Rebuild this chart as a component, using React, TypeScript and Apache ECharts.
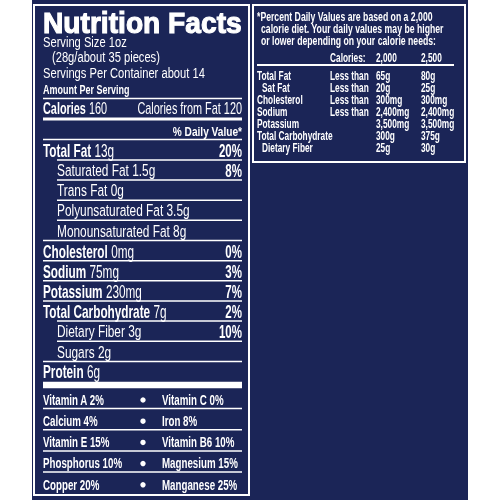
import React, { useEffect, useRef } from "react";
import * as echarts from "echarts";

const titleText = "Nutrition Facts";
const servingLines = ["Serving Size 1oz", "(28g/about 35 pieces)", "Servings Per Container about 14"];
const amountHeader = "Amount Per Serving";
const caloriesValue = "160";
const caloriesFromFat = "Calories from Fat 120";
const dailyValueHeader = "% Daily Value*";

const nutrientNames = [
  "Total Fat", "Saturated Fat", "Trans Fat", "Polyunsaturated Fat", "Monounsaturated Fat",
  "Cholesterol", "Sodium", "Potassium", "Total Carbohydrate", "Dietary Fiber", "Sugars", "Protein",
];
const nutrientAmounts = ["13g", "1.5g", "0g", "3.5g", "8g", "0mg", "75mg", "230mg", "7g", "3g", "2g", "6g"];
const nutrientPercents = ["20%", "8%", "", "", "", "0%", "3%", "7%", "2%", "10%", "", ""];
const nutrientIsSub = [false, true, true, true, true, false, false, false, false, true, true, false];

const vitaminsLeft = ["Vitamin A 2%", "Calcium 4%", "Vitamin E 15%", "Phosphorus 10%", "Copper 20%"];
const vitaminsRight = ["Vitamin C 0%", "Iron 8%", "Vitamin B6 10%", "Magnesium 15%", "Manganese 25%"];

const footnoteLines = [
  "*Percent Daily Values are based on a 2,000",
  "calorie diet. Your daily values may be higher",
  "or lower depending on your calorie needs:",
];
const dvHeader = ["Calories:", "2,000", "2,500"];
const dvLabels = ["Total Fat", "Sat Fat", "Cholesterol", "Sodium", "Potassium", "Total Carbohydrate", "Dietary Fiber"];
const dvIsSub = [false, true, false, false, false, false, true];
const dvQualifier = ["Less than", "Less than", "Less than", "Less than", "", "", ""];
const dv2000 = ["65g", "20g", "300mg", "2,400mg", "3,500mg", "300g", "25g"];
const dv2500 = ["80g", "25g", "300mg", "2,400mg", "3,500mg", "375g", "30g"];

const NAVY = "#1b2557";
const WHITE = "#ffffff";
const FF = '"Liberation Sans", Arial, Helvetica, sans-serif';

function txt(x: number, y: number, text: string, size: number, weight: string, sx: number, align = "left", extra: any = {}) {
  return {
    type: "text",
    x,
    y,
    scaleX: sx,
    silent: true,
    style: {
      text,
      fill: WHITE,
      fontSize: size,
      fontWeight: weight,
      fontFamily: FF,
      align,
      verticalAlign: "middle",
      ...extra,
    },
  };
}

function richTxt(x: number, y: number, bold: string, normal: string, size: number, sx: number) {
  return {
    type: "text",
    x,
    y,
    scaleX: sx,
    silent: true,
    style: {
      text: `{b|${bold}} {n|${normal}}`,
      fill: WHITE,
      fontSize: size,
      fontFamily: FF,
      align: "left",
      verticalAlign: "middle",
      rich: {
        b: { fontSize: size, fontWeight: "bold", fontFamily: FF, fill: WHITE },
        n: { fontSize: size, fontWeight: "normal", fontFamily: FF, fill: WHITE },
      },
    },
  };
}

function hline(x1: number, x2: number, y: number, w: number) {
  return {
    type: "rect",
    silent: true,
    shape: { x: x1, y: y - w / 2, width: x2 - x1, height: w },
    style: { fill: WHITE },
  };
}

function buildElements() {
  const els: any[] = [];
  els.push({ type: "rect", silent: true, shape: { x: 32, y: 0, width: 436, height: 500 }, style: { fill: NAVY } });
  els.push({ type: "rect", silent: true, shape: { x: 34, y: 5, width: 215, height: 490 }, style: { fill: "none", stroke: WHITE, lineWidth: 2 } });
  els.push({ type: "rect", silent: true, shape: { x: 253, y: 5, width: 212, height: 157 }, style: { fill: "none", stroke: WHITE, lineWidth: 2 } });

  const L = 43, R = 242, IND = 57;
  els.push(txt(L, 23, titleText, 29.5, "900", 0.955, "left", { stroke: WHITE, lineWidth: 1.1 }));
  els.push(txt(L, 41.5, servingLines[0], 15.5, "normal", 0.72));
  els.push(txt(52, 57, servingLines[1], 15.5, "normal", 0.72));
  els.push(txt(L, 72.5, servingLines[2], 15.5, "normal", 0.72));
  els.push(txt(L, 89.5, amountHeader, 12.5, "bold", 0.72));
  els.push(hline(L, R, 98.5, 1.5));
  els.push(richTxt(L, 108.5, "Calories", caloriesValue, 17, 0.64));
  els.push(txt(R, 108.5, caloriesFromFat, 17, "normal", 0.64, "right"));
  els.push(hline(L, R, 119, 3));
  els.push(txt(R, 131, dailyValueHeader, 13, "bold", 0.78, "right"));
  els.push(hline(L, R, 139.5, 1.5));

  const rowY = (i: number) => 150.3 + i * 20.15;
  nutrientNames.forEach((name, i) => {
    const y = rowY(i);
    if (nutrientIsSub[i]) {
      els.push(txt(IND, y, `${name} ${nutrientAmounts[i]}`, 16.5, "normal", 0.72));
    } else {
      els.push(richTxt(L, y, name, nutrientAmounts[i], 18, 0.655));
    }
    if (nutrientPercents[i]) {
      els.push(txt(R, y, nutrientPercents[i], 18, "bold", 0.64, "right"));
    }
    if (i < nutrientNames.length - 1) {
      const nextSub = nutrientIsSub[i + 1];
      els.push(hline(nextSub ? IND : L, R, rowY(i) + 9.6, 1.5));
    }
  });
  els.push(hline(L, R, 385, 6.5));

  const vitY = (i: number) => 400 + i * 21.2;
  vitaminsLeft.forEach((v, i) => {
    const y = vitY(i);
    els.push(txt(L, y, v, 15, "bold", 0.65));
    els.push({ type: "circle", silent: true, shape: { cx: 143, cy: y, r: 2.7 }, style: { fill: WHITE } });
    els.push(txt(162, y, vitaminsRight[i], 15, "bold", 0.65));
    if (i < vitaminsLeft.length - 1) els.push(hline(L, R, y + 8.5, 1.5));
  });

  els.push(txt(257, 16, footnoteLines[0], 12.5, "bold", 0.695));
  els.push(txt(261, 28.3, footnoteLines[1], 12.5, "bold", 0.695));
  els.push(txt(261, 40.6, footnoteLines[2], 12.5, "bold", 0.695));
  const cols = [330, 376, 421];
  dvHeader.forEach((h, j) => els.push(txt(cols[j], 57, h, 13, "bold", 0.64)));
  els.push(hline(257, 454, 65, 2));
  dvLabels.forEach((lab, i) => {
    const y = 75 + i * 12;
    els.push(txt(dvIsSub[i] ? 262 : 257, y, lab, 13, "bold", 0.64));
    if (dvQualifier[i]) els.push(txt(cols[0], y, dvQualifier[i], 13, "bold", 0.64));
    els.push(txt(cols[1], y, dv2000[i], 13, "bold", 0.64));
    els.push(txt(cols[2], y, dv2500[i], 13, "bold", 0.64));
  });
  return els;
}

export default function App() {
  const ref = useRef<HTMLDivElement>(null);
  useEffect(() => {
    if (!ref.current) return;
    const chart = echarts.init(ref.current, null, { renderer: "svg" });
    chart.setOption({ animation: false, graphic: { elements: buildElements() } });
    return () => chart.dispose();
  }, []);
  return <div ref={ref} style={{ position: "fixed", left: 0, top: 0, width: 500, height: 500 }} />;
}
